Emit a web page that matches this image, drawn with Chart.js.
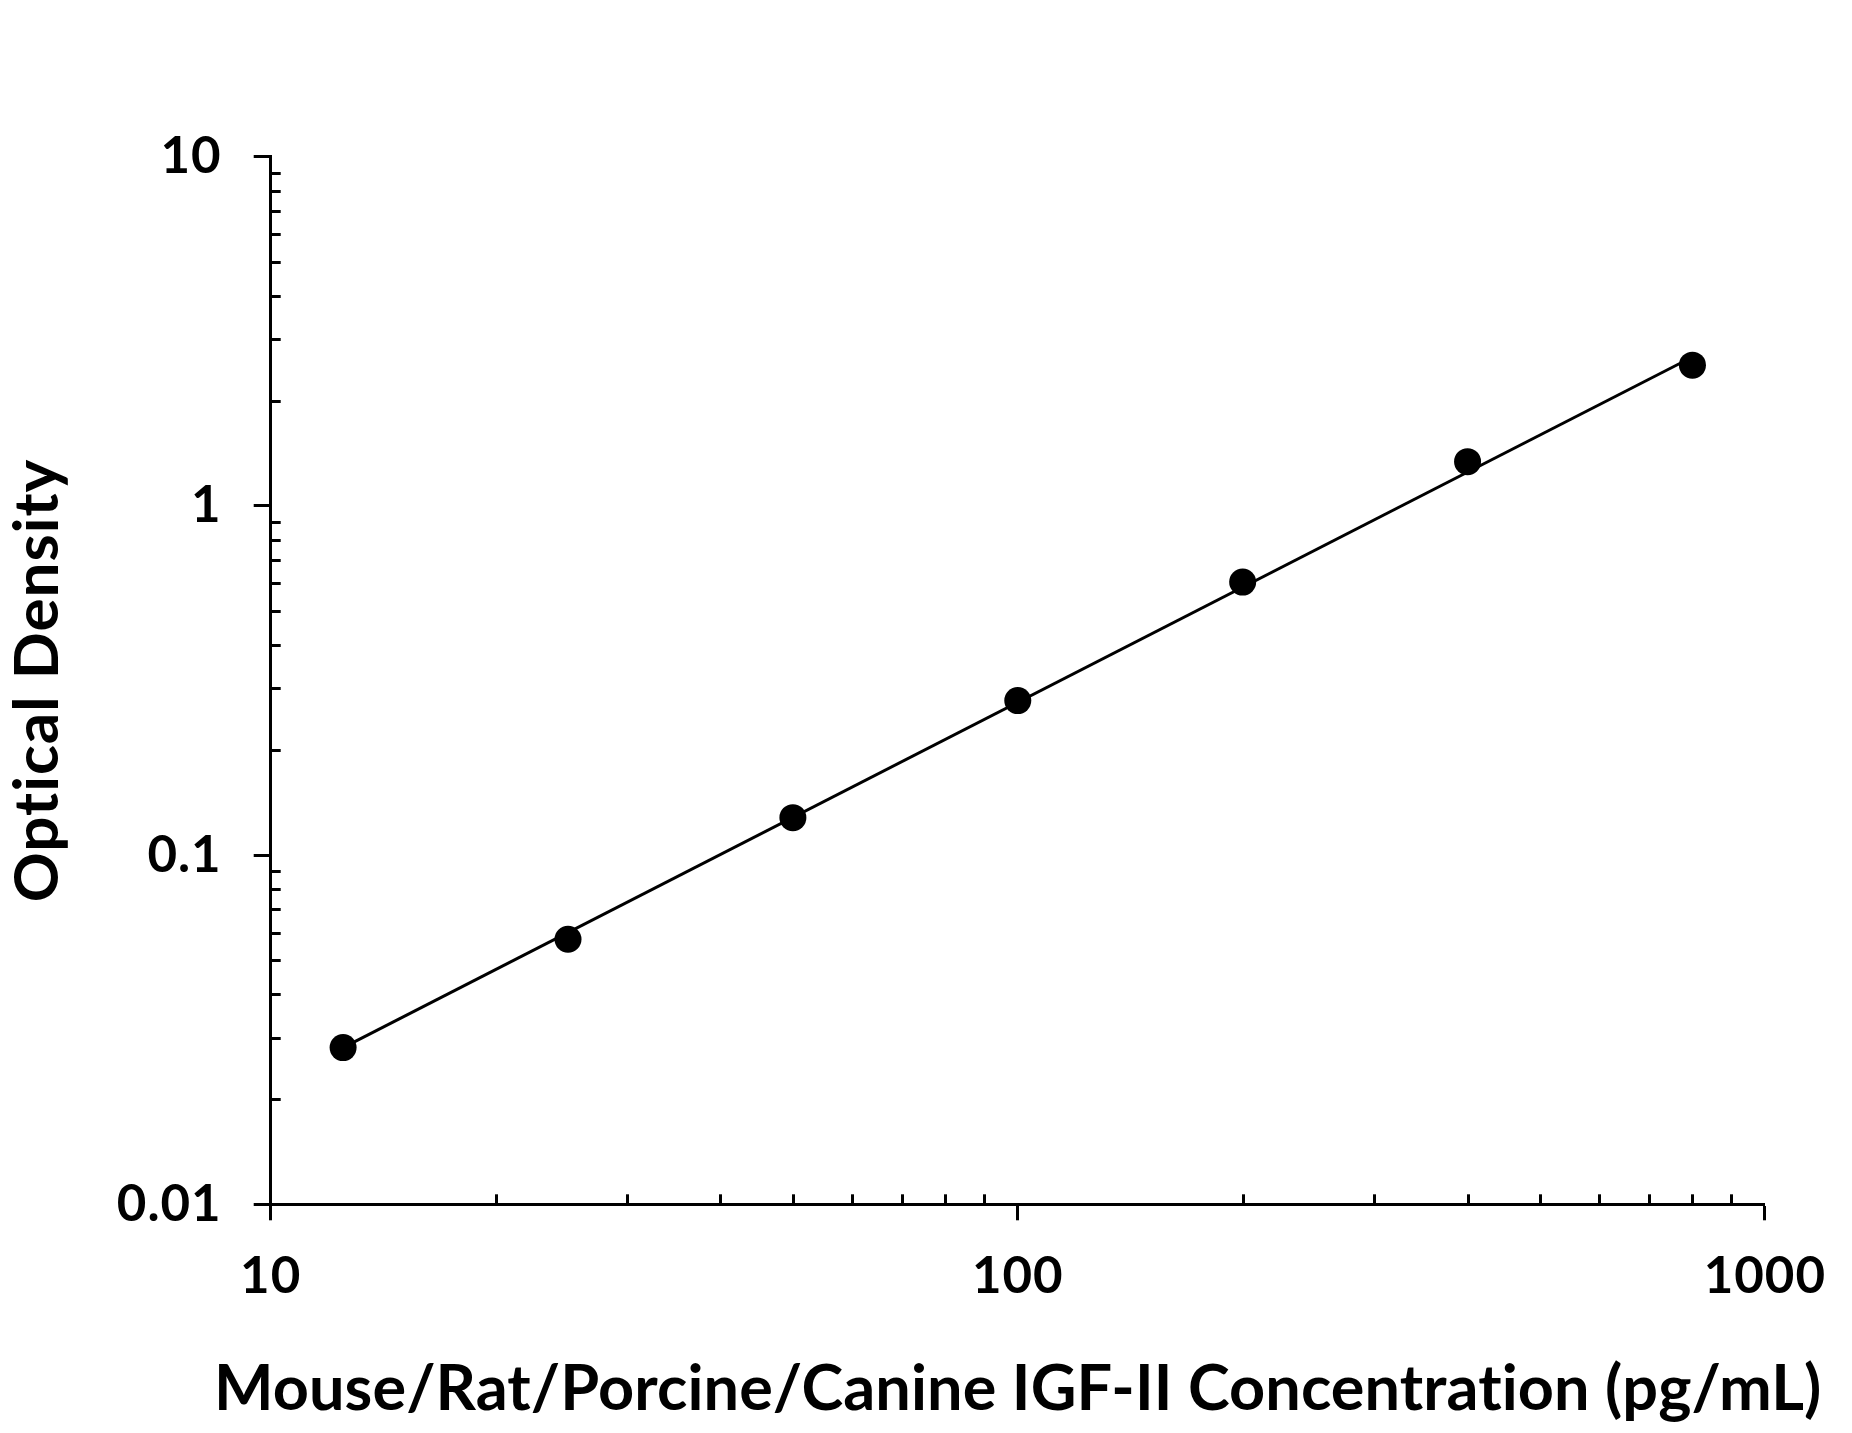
<!DOCTYPE html>
<html>
<head>
<meta charset="utf-8">
<script src="https://cdn.jsdelivr.net/npm/chart.js@4.4.1/dist/chart.umd.min.js"></script>
<style>
  html, body { margin: 0; padding: 0; background: #ffffff; }
  #wrap { width: 1852px; height: 1433px; position: relative; }
  canvas { display: block; }
</style>
</head>
<body>
<div id="wrap"><canvas id="c" width="1852" height="1433"></canvas></div>
<script>
// ---- data ----
const concentrations = [12.5, 25, 50, 100, 200, 400, 800];           // pg/mL
const opticalDensity = [0.0281, 0.0574, 0.128, 0.277, 0.605, 1.339, 2.53];
const fitConcentrations = [12.5, 800];
const fitDensity = [0.0281, 2.67];
const xTickValues = [10, 100, 1000];
const yTickValues = [0.01, 0.1, 1, 10];
const xTitle = 'Mouse/Rat/Porcine/Canine IGF-II Concentration (pg/mL)';
const yTitle = 'Optical Density';

const FONT = 'Lato, "Open Sans", sans-serif';

const textSpacing = {
  id: 'textSpacing',
  beforeUpdate(chart) { chart.ctx.letterSpacing = '1px'; },
  beforeDraw(chart) { chart.ctx.letterSpacing = '1px'; }
};

// x-axis title drawn centred under the plot area without Chart.js' width clamp
const xAxisTitle = {
  id: 'xAxisTitle',
  afterDraw(chart) {
    const ctx = chart.ctx;
    const area = chart.chartArea;
    ctx.save();
    ctx.letterSpacing = '0.1px';
    ctx.fillStyle = '#000';
    ctx.font = 'bold 63px ' + FONT;
    ctx.textAlign = 'center';
    ctx.textBaseline = 'alphabetic';
    ctx.fillText(xTitle, (area.left + area.right) / 2, 1410);
    ctx.restore();
  }
};

const minorTicks = {
  id: 'minorTicks',
  afterDatasetsDraw(chart) {
    const ctx = chart.ctx;
    const xs = chart.scales.x, ys = chart.scales.y;
    ctx.save();
    ctx.strokeStyle = '#000';
    ctx.lineWidth = 3;
    ctx.lineCap = 'butt';
    const ax = xs.getPixelForValue(xTickValues[0]);
    const ay = ys.getPixelForValue(yTickValues[0]);
    for (let i = 0; i < yTickValues.length - 1; i++) {
      for (let k = 2; k <= 9; k++) {
        const y = Math.round(ys.getPixelForValue(yTickValues[i] * k)) + 0.5;
        ctx.beginPath(); ctx.moveTo(ax, y); ctx.lineTo(ax + 10, y); ctx.stroke();
      }
    }
    for (let i = 0; i < xTickValues.length - 1; i++) {
      for (let k = 2; k <= 9; k++) {
        const x = Math.round(xs.getPixelForValue(xTickValues[i] * k)) + 0.5;
        ctx.beginPath(); ctx.moveTo(x, ay); ctx.lineTo(x, ay - 10); ctx.stroke();
      }
    }
    ctx.restore();
  }
};

new Chart(document.getElementById('c'), {
  type: 'scatter',
  data: {
    datasets: [
      {
        label: 'Standard',
        data: concentrations.map((c, i) => ({ x: c, y: opticalDensity[i] })),
        showLine: false,
        pointRadius: 13.5,
        pointBackgroundColor: '#000',
        pointBorderColor: '#000',
        pointBorderWidth: 0,
        order: 0
      },
      {
        label: 'Fit',
        data: fitConcentrations.map((c, i) => ({ x: c, y: fitDensity[i] })),
        showLine: true,
        borderColor: '#000',
        borderWidth: 3,
        pointRadius: 0,
        fill: false,
        order: 1
      }
    ]
  },
  options: {
    responsive: false,
    animation: false,
    devicePixelRatio: 1,
    layout: { padding: { left: 0, right: 80.7, top: 156.7, bottom: 0 } },
    plugins: { legend: { display: false }, tooltip: { enabled: false } },
    scales: {
      x: {
        type: 'logarithmic',
        min: 10, max: 1000,
        afterBuildTicks(scale) { scale.ticks = xTickValues.map(v => ({ value: v })); },
        afterFit(scale) { scale.height = 1433 - 1204.3; },
        ticks: {
          callback: (v) => String(v),
          font: { family: FONT, size: 51, weight: 'bold' },
          color: '#000',
          padding: 26,
          maxRotation: 0,
          autoSkip: false
        },
        grid: { drawOnChartArea: false, drawTicks: true, tickLength: 16, tickWidth: 3, tickColor: '#000', color: '#000' },
        border: { display: true, color: '#000', width: 3 },
        title: { display: false, text: xTitle }
      },
      y: {
        type: 'logarithmic',
        min: 0.01, max: 10,
        afterBuildTicks(scale) { scale.ticks = yTickValues.map(v => ({ value: v })); },
        afterFit(scale) { scale.width = 270.7; },
        ticks: {
          callback: (v) => String(v),
          font: { family: FONT, size: 51, weight: 'bold' },
          color: '#000',
          padding: 32,
          autoSkip: false
        },
        grid: { drawOnChartArea: false, drawTicks: true, tickLength: 17, tickWidth: 3, tickColor: '#000', color: '#000' },
        border: { display: true, color: '#000', width: 3 },
        title: {
          display: true, text: yTitle, color: '#000',
          font: { family: FONT, size: 62, weight: 'bold' },
          padding: { top: 1, bottom: 0 }
        }
      }
    }
  },
  plugins: [textSpacing, minorTicks, xAxisTitle]
});
</script>
</body>
</html>
